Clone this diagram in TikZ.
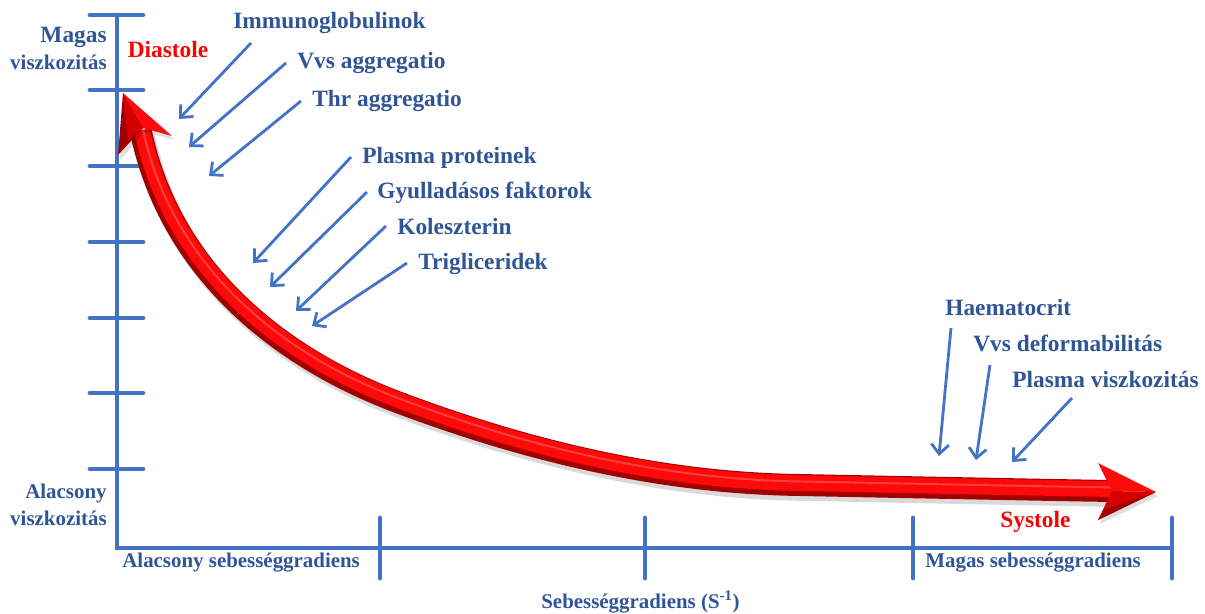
\documentclass[tikz,border=0pt]{standalone}
\usepackage{fontspec}
\setmainfont{Liberation Serif}
\usetikzlibrary{arrows.meta}
\definecolor{axisblue}{HTML}{4472C4}
\definecolor{txtblue}{HTML}{2F5597}
\definecolor{darkred}{HTML}{A00000}
\definecolor{midred}{HTML}{D40000}
\definecolor{brightred}{HTML}{FF0A0A}
\definecolor{hilite}{HTML}{FF8080}
\begin{document}
\begin{tikzpicture}[x=0.02cm,y=-0.02cm,
  lbl/.style={font=\fontsize{13.3}{15}\selectfont\bfseries, text=txtblue, inner sep=0pt},
  axlbl/.style={font=\fontsize{11.9}{14}\selectfont\bfseries, text=txtblue, inner sep=0pt},
  redlbl/.style={font=\fontsize{13.3}{15}\selectfont\bfseries, text=red, inner sep=0pt},
  axisline/.style={line width=2.8pt, axisblue, line cap=round},
  ptr/.style={line width=1.6pt, axisblue, -{Straight Barb[length=5.5pt,width=10pt,line width=1.6pt]}}]
\useasboundingbox (0,0) rectangle (1205,613);

% axes
\coordinate (ytop) at (117,15);
\coordinate (orig) at (117,548);
\coordinate (xend) at (1172,548);
\draw[axisline] (ytop) -- (orig) -- (xend);
\foreach \y in {15,90,166,242,318,393,469} \draw[axisline] (90,\y) -- (143,\y);
\foreach \x in {380,645,913,1172} \draw[axisline] (\x,518) -- (\x,578);

% red curved arrow (shaft)
\draw[line width=12.5pt, darkred,
  preaction={draw, black, opacity=0.15, line width=13pt, transform canvas={shift={(1.5pt,-2.5pt)}}},
  postaction={draw, brightred, line width=9pt, transform canvas={shift={(0.6pt,1.1pt)}}},
  postaction={draw, hilite, opacity=0.45, line width=1.1pt, transform canvas={shift={(1pt,2pt)}}}]
  (141,132) .. controls (170,270) and (279,358) .. (400,403)
  .. controls (512,445) and (650,483) .. (800,485)
  .. controls (950,488) and (1050,490) .. (1112,491);

% top head
\fill[black, opacity=0.13] (125,97) -- (175,140) -- (145,132) -- (120,160) -- cycle;
\fill[darkred] (123,93) -- (143,128) -- (118,155) -- cycle;
\fill[brightred] (123,93) -- (172,136) -- (143,128) -- cycle;
\fill[midred] (123,93) -- (143,128) -- (128,140) -- cycle;
% right head
\fill[black, opacity=0.13] (1158,496) -- (1100,467) -- (1114,495) -- (1100,524) -- cycle;
\fill[brightred] (1156,492) -- (1098,463) -- (1112,491) -- cycle;
\fill[midred] (1156,492) -- (1112,491) -- (1098,520) -- cycle;
\fill[darkred] (1156,492) -- (1104,510) -- (1098,520) -- cycle;

% axis labels
\node[lbl, anchor=east] (magas) at (107,37) {Magas};
\node[axlbl, anchor=east] (magasv) at (107,62) {viszkozitás};
\node[axlbl, anchor=east] (alacs) at (107,493) {Alacsony};
\node[axlbl, anchor=east] (alacsv) at (107,518) {viszkozitás};
\node[axlbl, anchor=west] (lowsr) at (122,563) {Alacsony sebességgradiens};
\node[axlbl, anchor=west] (highsr) at (925,563) {Magas sebességgradiens};
\node[axlbl, anchor=west] (srlabel) at (541,602) {Sebességgradiens (S\textsuperscript{-1})};
\node[redlbl] (diast) at (168,50) {Diastole};
\node[redlbl, anchor=west] (syst) at (1000,522) {Systole};

% factor labels
\node[lbl, anchor=west] (immu) at (233,23) {Immunoglobulinok};
\node[lbl, anchor=west] (vvsag) at (297,63) {Vvs aggregatio};
\node[lbl, anchor=west] (thrag) at (312,101) {Thr aggregatio};
\node[lbl, anchor=west] (plprot) at (362,158) {Plasma proteinek};
\node[lbl, anchor=west] (gyull) at (377,193) {Gyulladásos faktorok};
\node[lbl, anchor=west] (kol) at (397,227) {Koleszterin};
\node[lbl, anchor=west] (trig) at (418,264) {Trigliceridek};
\node[lbl, anchor=west] (haem) at (945,308) {Haematocrit};
\node[lbl, anchor=west] (vvsdef) at (973,343) {Vvs deformabilitás};
\node[lbl, anchor=west] (plvis) at (1012,379) {Plasma viszkozitás};

% pointer arrows
\coordinate (immuS) at (251,43);   \coordinate (immuE) at (179,119);
\coordinate (vvsagS) at (286,63);  \coordinate (vvsagE) at (189,147);
\coordinate (thragS) at (301,101); \coordinate (thragE) at (209,176);
\coordinate (plprotS) at (351,157);\coordinate (plprotE) at (253,263);
\coordinate (gyullS) at (367,192); \coordinate (gyullE) at (270,287);
\coordinate (kolS) at (386,226);   \coordinate (kolE) at (296,311);
\coordinate (trigS) at (407,263);  \coordinate (trigE) at (312,326);
\coordinate (haemS) at (951,328);  \coordinate (haemE) at (939,456);
\coordinate (vvsdefS) at (990,365);\coordinate (vvsdefE) at (976,460);
\coordinate (plvisS) at (1072,398);\coordinate (plvisE) at (1012,462);
\foreach \n in {immu,vvsag,thrag,plprot,gyull,kol,trig,haem,vvsdef,plvis}
  \draw[ptr] (\n S) -- (\n E);
\end{tikzpicture}
\end{document}
